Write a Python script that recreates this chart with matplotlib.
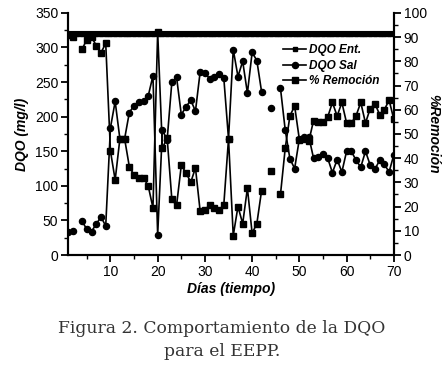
import numpy as np
import matplotlib
import matplotlib.pyplot as plt
from matplotlib.ticker import MultipleLocator

matplotlib.use("Agg")

nan = np.nan

dias = list(range(1, 71))

dqo_ent = [320] * 70

dqo_sal = [33, 35, nan, 49, 37, 34, 45, 55, 42, 184,
           222, 168, 168, 206, 216, 221, 223, 230, 259, 29,
           181, 166, 250, 257, 203, 214, 224, 208, 265, 263,
           255, 257, 262, 256, 168, 297, 258, 280, 234, 293,
           281, 236, nan, 212, nan, 241, 181, 139, 125, 168,
           170, 171, 140, 142, 146, 140, 119, 138, 120, 150,
           150, 137, 127, 150, 130, 124, 137, 131, 120, 145]

remocion = [91, 90, nan, 85, 89, 90, 86.5, 83.5, 87.5, 43,
            31, 48, 48, 36.5, 33, 32, 32, 28.5, 19.5, 92,
            44, 48.5, 23, 20.5, 37, 34, 30, 36, 18, 18.6,
            20.7, 19.3, 18.6, 20.7, 48, 8, 20, 13, 27.6, 9,
            13, 26.6, nan, 34.5, nan, 25, 44, 57.5, 61.5, 47.7,
            48, 47, 55.5, 55, 55, 57, 63, 57.4, 63, 54.5,
            54.5, 57.5, 63, 54.5, 60.5, 62.5, 58, 60, 64, 56]

plt.rcParams['font.family'] = ['Liberation Sans', 'DejaVu Sans']

fig = plt.figure(figsize=(4.44, 3.68), dpi=100)
ax = fig.add_axes([0.153, 0.307, 0.734, 0.658])
ax2 = ax.twinx()

# dense markers of the constant inlet series merge into a solid bar
ax.plot(dias, dqo_ent, color='black', linewidth=4.4, solid_capstyle='butt')
l1, = ax.plot(dias, dqo_ent, color='black', marker='s', markersize=3.4, linewidth=1.2, label='DQO Ent.')
l2, = ax.plot(dias, dqo_sal, color='black', marker='o', markersize=4.4, linewidth=1.2, label='DQO Sal')
l3, = ax2.plot(dias, remocion, color='black', marker='s', markersize=4.4, linewidth=1.2, label='% Remoción')

ax.set_xlim(1, 70)
ax.set_ylim(0, 350)
ax2.set_ylim(0, 100)

ax.xaxis.set_major_locator(MultipleLocator(10))
ax.xaxis.set_minor_locator(MultipleLocator(5))
ax.yaxis.set_major_locator(MultipleLocator(50))
ax.yaxis.set_minor_locator(MultipleLocator(25))
ax2.yaxis.set_major_locator(MultipleLocator(10))
ax2.yaxis.set_minor_locator(MultipleLocator(5))

for a in (ax, ax2):
    a.spines['top'].set_visible(False)
    for s in ('left', 'right', 'bottom'):
        a.spines[s].set_linewidth(1.5)
    a.tick_params(which='major', direction='out', length=5, width=1.3, labelsize=10, pad=2)
    a.tick_params(which='minor', direction='out', length=3, width=1.0)

ax.set_xlabel('Días (tiempo)', fontsize=10, fontweight='bold', fontstyle='italic', labelpad=2)
ax.set_ylabel('DQO (mg/l)', fontsize=10, fontweight='bold', fontstyle='italic', labelpad=4)
ax2.set_ylabel('%Remoción', fontsize=10, fontweight='bold', fontstyle='italic', rotation=270,
               va='center', ha='center')
ax2.yaxis.set_label_coords(1.12, 0.5)

leg = ax2.legend(handles=[l1, l2, l3], loc='upper left', bbox_to_anchor=(0.645, 0.89),
                 frameon=False, handlelength=2.0, handletextpad=0.25, labelspacing=0.3,
                 borderaxespad=0, prop={'size': 8.5, 'weight': 'bold', 'style': 'italic'})

fig.text(0.5, 0.077, 'Figura 2. Comportamiento de la DQO\npara el EEPP.', ha='center', va='center',
         fontsize=12.3, family='DejaVu Serif', color='#333333', linespacing=1.45)

plt.savefig('out.png', dpi=100)
plt.close(fig)
